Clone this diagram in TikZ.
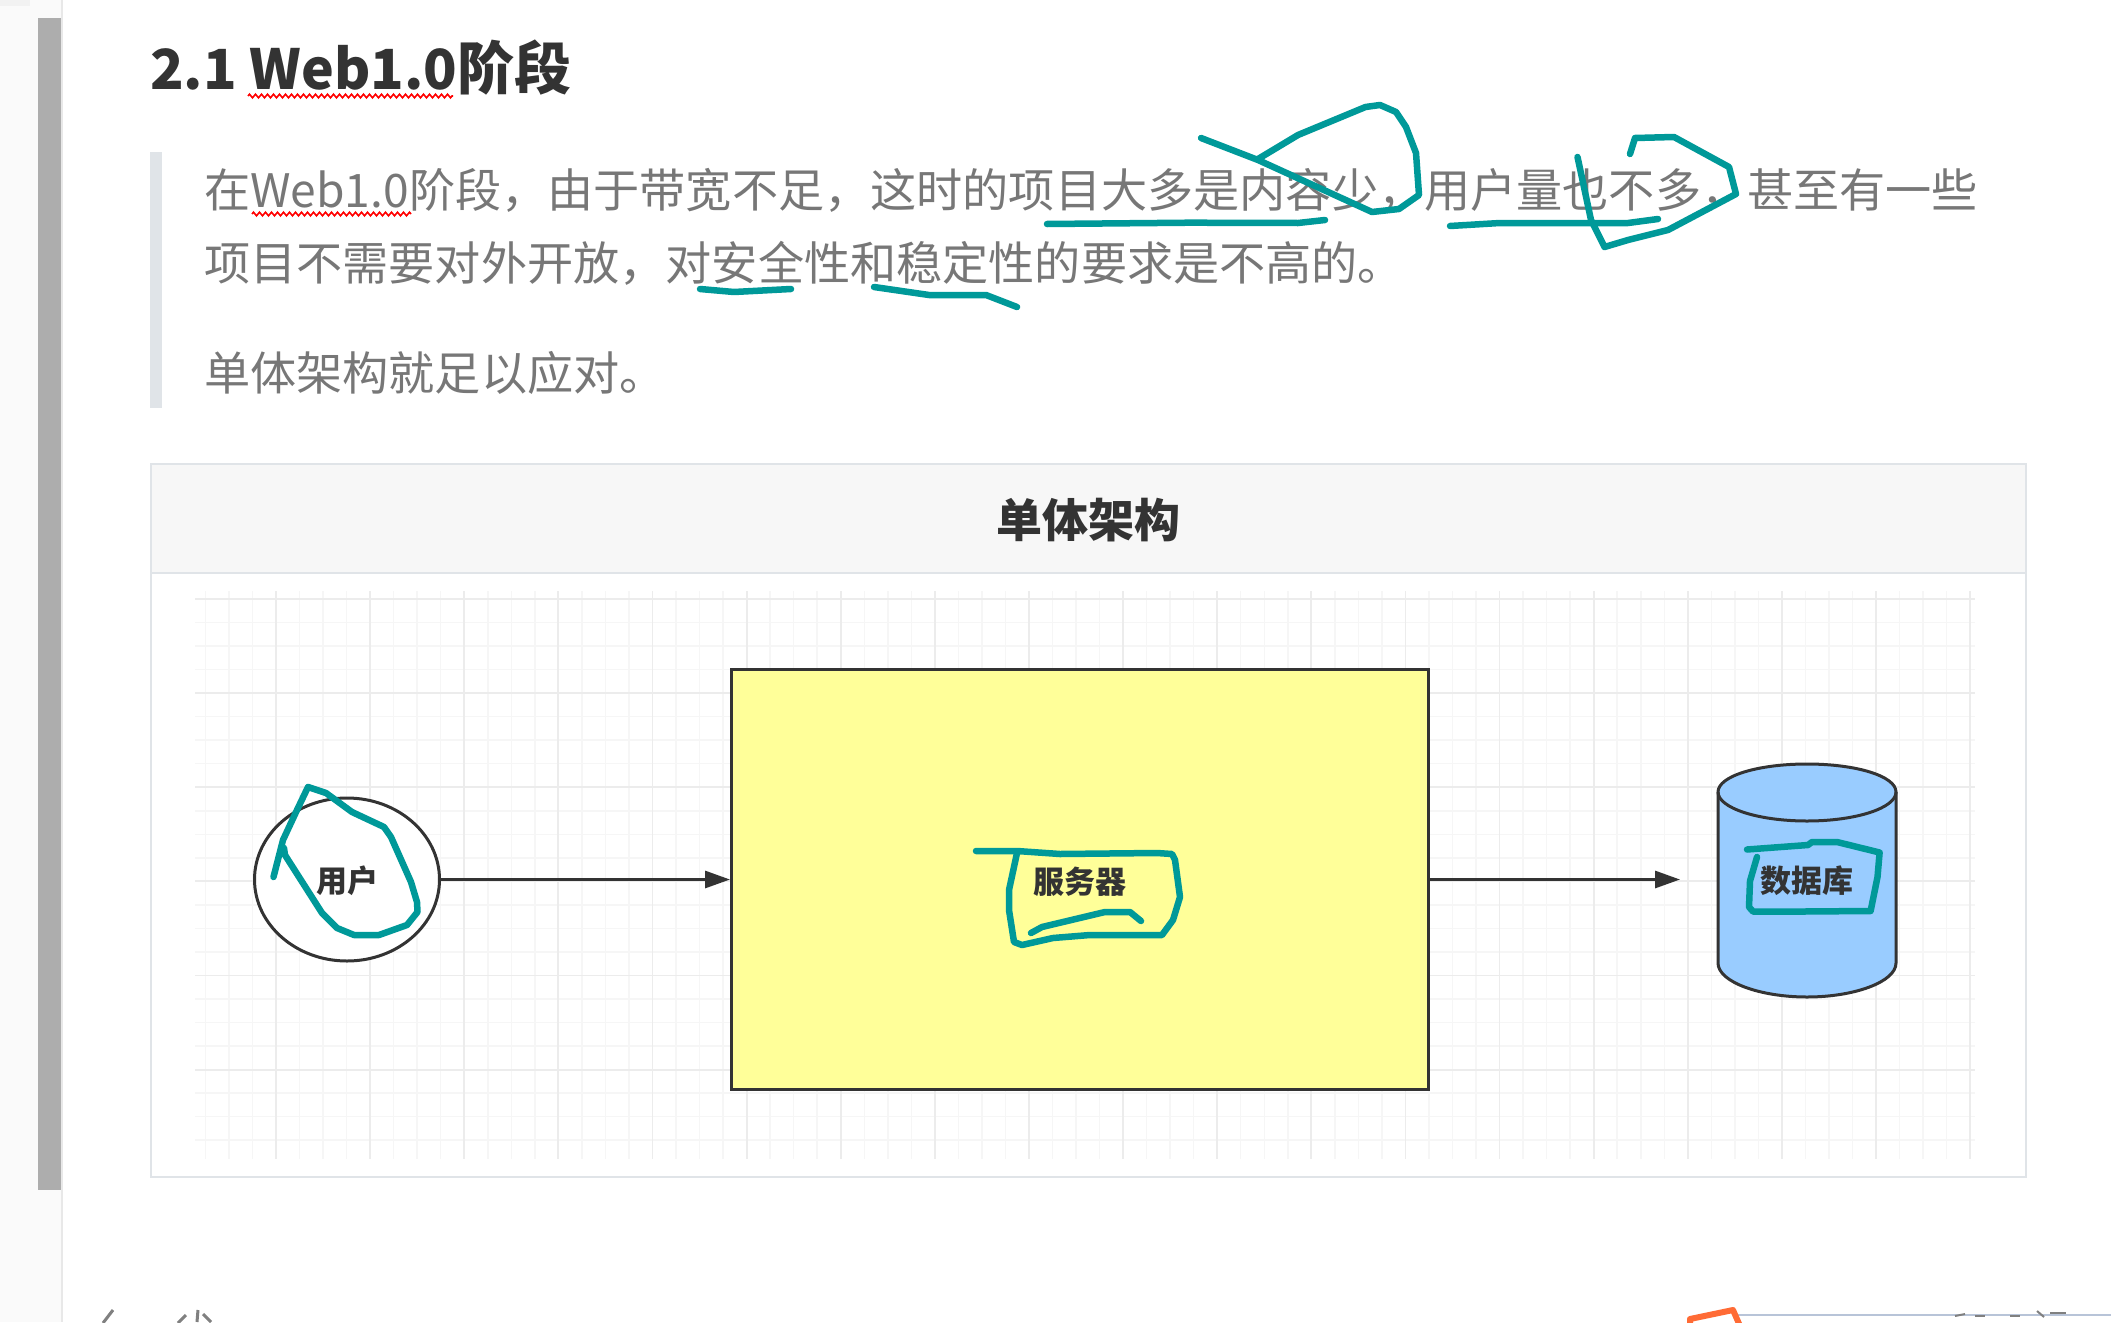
\documentclass[tikz,border=0pt]{standalone}
\usepackage{fontspec}
\setmainfont{Noto Sans CJK SC}
\usetikzlibrary{arrows.meta,decorations.pathmorphing,shapes.geometric}
\definecolor{ink}{HTML}{333333}
\definecolor{quote}{HTML}{777777}
\definecolor{teal}{HTML}{009999}
\definecolor{gridmin}{HTML}{F6F6F6}
\definecolor{gridmaj}{HTML}{ECECEC}
\definecolor{edge}{HTML}{E0E4E8}
\definecolor{bluefill}{HTML}{99CCFF}
\definecolor{yellowfill}{HTML}{FFFF99}
\definecolor{barline}{HTML}{B8C4D8}
\definecolor{orangemark}{HTML}{FF6B35}
\definecolor{fragment}{HTML}{808080}
\tikzset{
 x=1pt,y=-1pt,
 pen/.style={draw=teal,line width=6.5pt,line cap=round,line join=round},
 wavy/.style={draw=red,line width=1.6pt,decorate,decoration={zigzag,amplitude=1.8pt,segment length=6pt}},
 bodytext/.style={anchor=west,inner sep=0pt,text=quote,font=\fontsize{46.15}{46}\selectfont},
 shapelabel/.style={text=ink,inner sep=0pt,font=\fontsize{31}{31}\selectfont\bfseries},
 conn/.style={draw=ink,line width=3pt,-{Triangle[length=25pt,width=17pt]}},
 shapeline/.style={draw=ink,line width=3pt},
 cut/.style={draw=fragment,line width=3pt},
}
\begin{document}
\begin{tikzpicture}
\useasboundingbox (0,0) rectangle (2111,1322);
\clip (0,0) rectangle (2111,1322);
\fill[white] (0,0) rectangle (2111,1322);
% side panel
\fill[black!2] (0,0) rectangle (62,1322);
\fill[black!9] (61,0) rectangle (63,1322);
\fill[black!5] (0,0) rectangle (30,6);
\fill[black!32] (38,18) rectangle (61,1190);
% heading
\node[anchor=west,inner sep=0pt,text=ink,font=\bfseries] (title) at (150,68) {\fontsize{55.3}{57}\selectfont 2.1 Web1.0\fontsize{57}{57}\selectfont 阶段};
\draw[wavy] (248,96) -- (453,96);
% quote
\fill[edge] (150,152) rectangle (162,408);
\node[bodytext] (l1) at (204,190) {在Web1.0阶段，由于带宽不足，这时的项目大多是内容少，用户量也不多，甚至有一些};
\node[bodytext] (l2) at (204,263) {项目不需要对外开放，对安全性和稳定性的要求是不高的。};
\node[bodytext] (l3) at (204,373) {单体架构就足以应对。};
\draw[wavy] (252,214) -- (411,214);
% card
\fill[black!3] (151,464) rectangle (2026,573);
\draw[edge,line width=2pt] (151,573) -- (2026,573);
\draw[edge,line width=2pt] (151,464) rectangle (2026,1177);
\node[text=ink,inner sep=0pt,font=\fontsize{46}{46}\selectfont\bfseries] (head) at (1088,520) {单体架构};
% grid
\foreach \k in {0,...,75} {
  \pgfmathsetmacro{\gx}{205.4+23.53*\k}
  \draw[gridmin,line width=1.5pt] (\gx,591) -- (\gx,1159);
}
\foreach \k in {0,...,23} {
  \pgfmathsetmacro{\gy}{599+23.53*\k}
  \draw[gridmin,line width=1.5pt] (195,\gy) -- (1975,\gy);
}
\foreach \k in {0,...,18} {
  \pgfmathsetmacro{\gx}{276+94.12*\k}
  \draw[gridmaj,line width=1.8pt] (\gx,591) -- (\gx,1159);
}
\foreach \k in {0,...,5} {
  \pgfmathsetmacro{\gy}{599+94.12*\k}
  \draw[gridmaj,line width=1.8pt] (195,\gy) -- (1975,\gy);
}
% shapes
\node[ellipse,shapeline,fill=white,minimum width=185pt,minimum height=163pt,inner sep=0pt] (user) at (347,879.5) {};
\node[rectangle,shapeline,fill=yellowfill,minimum width=697pt,minimum height=420pt,inner sep=0pt] (server) at (1080,879.5) {};
\draw[shapeline,fill=bluefill] (1718,792) .. controls (1718,776) and (1758,764) .. (1807,764) .. controls (1856,764) and (1896,776) .. (1896,792) -- (1896,963) .. controls (1896,982) and (1854,997) .. (1807,997) .. controls (1760,997) and (1718,982) .. (1718,963) -- cycle;
\draw[shapeline] (1718,792) .. controls (1718,808) and (1758,821) .. (1807,821) .. controls (1856,821) and (1896,808) .. (1896,792);
\node[shapelabel] (userlabel) at (347.5,881) {用户};
\node[shapelabel] (serverlabel) at (1080,882) {服务器};
\node[shapelabel] (dblabel) at (1806.5,881) {数据库};
\coordinate (dbin) at (1680,879.5);
\draw[conn] (user.east) -- (server.west);
\draw[conn] (server.east) -- (dbin);
% handwriting
\draw[pen] (1047,224) -- (1190,222.7) -- (1298,223) -- (1325,220);
\draw[pen] (1201,138) -- (1258,160) -- (1372,212) -- (1399,209) -- (1419,195) -- (1416,153) -- (1406,127) -- (1396,112) -- (1380,105) -- (1365.5,107) -- (1298,135) -- (1258,159);
\draw[pen] (1450,226) -- (1500,223) -- (1628,223) -- (1658,219);
\draw[pen] (1630,154) -- (1635,138) -- (1674,137) -- (1729,167) -- (1736,194) -- (1668,230) -- (1628,240) -- (1604.5,247) -- (1591,220) -- (1577.5,157);
\draw[pen] (700,289) -- (734,292) -- (791,289);
\draw[pen] (874,287) -- (929,295) -- (986,295) -- (1017,307);
\draw[pen] (273.5,877) -- (283,840) -- (297,810) -- (308,787) -- (326,793) -- (352,812) -- (384,827) -- (391,837) -- (411,882) -- (417,902) -- (417.5,912) -- (407,925) -- (379,935) -- (354,935) -- (337,928) -- (322,913) -- (285,855) -- (284,848);
\draw[pen] (1747,849.5) -- (1808,845) -- (1812,842) -- (1837,842) -- (1879.6,852.5) -- (1877.5,877) -- (1870.6,911) -- (1804,911.5) -- (1753,911.5) -- (1749,907) -- (1750,881) -- (1757,857);
\draw[pen] (976,851) -- (1017,851) -- (1060,854) -- (1157,853) -- (1172,854) -- (1175,860) -- (1180,897) -- (1173,920) -- (1162,935) -- (1090,935) -- (1053,938) -- (1022,945) -- (1014,942) -- (1009,910) -- (1009,890) -- (1017,853);
\draw[pen] (1031,933) -- (1042,927) -- (1105,912) -- (1130,912) -- (1141,921);
% bottom bar
\draw[barline,line width=1.5pt] (1738,1315) -- (2111,1315);
\draw[orangemark,line width=6pt,line join=round] (1690,1326) -- (1690,1319) -- (1733,1310) -- (1740,1326);
% cut-off glyph tops at the lower edge
\draw[cut] (103,1323) -- (113,1310);
\draw[cut] (178,1323) -- (186,1315);
\draw[cut] (197,1322) -- (198,1310);
\draw[cut] (203,1314) -- (211,1322);
\draw[cut,line width=2pt] (1955,1316) -- (1965,1314);
\draw[cut,line width=2pt] (1975,1316) -- (1985,1316);
\draw[cut,line width=2pt] (2010,1316) -- (2020,1316);
\draw[cut,line width=2pt] (2037,1311) -- (2044,1317);
\draw[cut,line width=2pt] (2050,1313) -- (2066,1313);
\end{tikzpicture}
\end{document}
